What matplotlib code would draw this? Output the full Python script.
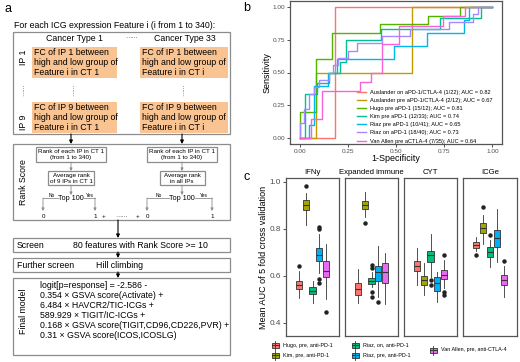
import numpy as np
import matplotlib
matplotlib.use("Agg")
import matplotlib.pyplot as plt
from matplotlib.patches import Rectangle

plt.rcParams['font.family'] = ['Liberation Sans', 'DejaVu Sans']

# ---------------- data: panel b (ROC step vertices) ----------------
roc_labels = [
    "Auslander on aPD-1/CTLA-4 (1/22); AUC = 0.82",
    "Auslander pre aPD-1/CTLA-4 (2/12); AUC = 0.67",
    "Hugo pre aPD-1 (15/12); AUC = 0.81",
    "Kim pre aPD-1 (12/33); AUC = 0.74",
    "Riaz pre aPD-1 (10/41); AUC = 0.65",
    "Riaz on aPD-1 (18/40); AUC = 0.73",
    "Van Allen pre aCTLA-4 (7/35); AUC = 0.64",
]
roc_colors = ["#F8766D", "#C49A00", "#53B400", "#00C094", "#00B6EB", "#A58AFF", "#FB61D7"]

ausl_on_fpr = [0, 0.182, 0.182, 1]
ausl_on_tpr = [0, 0, 1, 1]
ausl_pre_fpr = [0, 0.083, 0.083, 0.583, 0.583, 1]
ausl_pre_tpr = [0, 0, 0.5, 0.5, 1, 1]
hugo_fpr = [0, 0, 0.083, 0.083, 0.167, 0.167, 0.417, 0.417, 0.667, 0.667, 0.833, 0.833, 1]
hugo_tpr = [0, 0.2, 0.2, 0.6, 0.6, 0.8, 0.8, 0.867, 0.867, 0.933, 0.933, 1, 1]
kim_fpr = [0, 0.03, 0.03, 0.091, 0.091, 0.152, 0.152, 0.212, 0.212, 0.242, 0.242,
           0.424, 0.424, 0.727, 0.727, 0.939, 0.939, 1]
kim_tpr = [0, 0, 0.333, 0.333, 0.417, 0.417, 0.5, 0.5, 0.583, 0.583, 0.75,
           0.75, 0.833, 0.833, 0.917, 0.917, 1, 1]
riaz_pre_fpr = [0, 0.049, 0.049, 0.073, 0.073, 0.146, 0.146, 0.195, 0.195, 0.488, 0.488,
                0.659, 0.659, 0.854, 0.854, 0.878, 0.878, 1]
riaz_pre_tpr = [0, 0, 0.1, 0.1, 0.4, 0.4, 0.5, 0.5, 0.6, 0.6, 0.7,
                0.7, 0.8, 0.8, 0.9, 0.9, 1, 1]
riaz_on_fpr = [0, 0, 0.025, 0.025, 0.05, 0.05, 0.075, 0.075, 0.1, 0.1, 0.15, 0.15, 0.175,
               0.175, 0.2, 0.2, 0.25, 0.25, 0.3, 0.3, 0.425, 0.425, 0.575, 0.575, 0.775,
               0.775, 0.9, 0.9, 0.925, 0.925, 1]
riaz_on_tpr = [0, 0.111, 0.111, 0.222, 0.222, 0.333, 0.333, 0.389, 0.389, 0.444, 0.444, 0.5,
               0.5, 0.556, 0.556, 0.611, 0.611, 0.667, 0.667, 0.722, 0.722, 0.778, 0.778,
               0.833, 0.833, 0.889, 0.889, 0.944, 0.944, 1, 1]
vanallen_fpr = [0, 0.057, 0.057, 0.114, 0.114, 0.314, 0.314, 0.371, 0.371, 0.429, 0.429,
                0.514, 0.514, 0.743, 0.743, 0.857, 0.857, 1]
vanallen_tpr = [0, 0, 0.143, 0.143, 0.357, 0.357, 0.429, 0.429, 0.5, 0.5, 0.714,
                0.714, 0.857, 0.857, 0.929, 0.929, 1, 1]

roc_fpr = [ausl_on_fpr, ausl_pre_fpr, hugo_fpr, kim_fpr, riaz_pre_fpr, riaz_on_fpr, vanallen_fpr]
roc_tpr = [ausl_on_tpr, ausl_pre_tpr, hugo_tpr, kim_tpr, riaz_pre_tpr, riaz_on_tpr, vanallen_tpr]

# ---------------- data: panel c (box stats) ----------------
methods = ["IFNy", "Expanded immune", "CYT", "ICGe"]
datasets = ["Hugo, pre, anti-PD-1", "Kim, pre, anti-PD-1", "Riaz, on, anti-PD-1",
            "Riaz, pre, anti-PD-1", "Van Allen, pre, anti-CTLA-4"]
box_colors = ["#F8766D", "#A3A500", "#00BF7D", "#00B0F6", "#E76BF3"]

# rows = methods, cols = datasets
whis_lo = [[0.503, 0.817, 0.483, 0.611, 0.500],
           [0.483, 0.850, 0.550, 0.507, 0.479],
           [0.560, 0.519, 0.593, 0.486, 0.546],
           [0.703, 0.736, 0.636, 0.660, 0.511]]
q1 = [[0.543, 0.879, 0.521, 0.664, 0.593],
      [0.519, 0.883, 0.564, 0.579, 0.569],
      [0.619, 0.560, 0.657, 0.536, 0.586],
      [0.717, 0.781, 0.679, 0.724, 0.561]]
med = [[0.561, 0.900, 0.536, 0.690, 0.619],
       [0.543, 0.900, 0.579, 0.614, 0.614],
       [0.643, 0.581, 0.686, 0.567, 0.604],
       [0.731, 0.804, 0.700, 0.760, 0.581]]
q3 = [[0.579, 0.921, 0.550, 0.717, 0.664],
      [0.569, 0.919, 0.590, 0.643, 0.654],
      [0.664, 0.600, 0.707, 0.596, 0.624],
      [0.743, 0.824, 0.721, 0.793, 0.603]]
whis_hi = [[0.620, 0.950, 0.579, 0.779, 0.733],
           [0.629, 0.957, 0.614, 0.726, 0.696],
           [0.717, 0.654, 0.779, 0.614, 0.665],
           [0.764, 0.857, 0.750, 0.886, 0.640]]
outliers = [[[0.640], [0.983], [], [0.586, 0.567, 0.797, 0.807], [0.447]],
            [[], [0.826], [0.646, 0.631, 0.529, 0.511], [0.486], []],
            [[], [], [0.581, 0.561], [], [0.689, 0.531, 0.519]],
            [[0.689], [0.893], [0.774], [], [0.664]]]

# ---------------- figure ----------------
W, H = 520, 362
fig = plt.figure(figsize=(5.2, 3.62), dpi=100)

# overlay in pixel coordinates for panel a and labels
ov = fig.add_axes([0, 0, 1, 1])
ov.set_xlim(0, W)
ov.set_ylim(H, 0)
ov.axis('off')

GRAY = "#8C8C8C"
ORANGE = "#F9C492"


def box(x0, y0, x1, y1, fc="none", ec=GRAY, lw=0.9):
    ov.add_patch(Rectangle((x0, y0), x1 - x0, y1 - y0, fc=fc, ec=ec, lw=lw))


def arrow(x, y0, y1, color="black", lw=0.8, ms=5):
    ov.annotate("", xy=(x, y1), xytext=(x, y0),
                arrowprops=dict(arrowstyle="-|>", color=color, lw=lw,
                                mutation_scale=ms, shrinkA=0, shrinkB=0))


fs_big = 6.3
ov.text(8, 9, "a", fontsize=9, ha="center", va="center")
ov.text(247, 8, "b", fontsize=9, ha="center", va="center")
ov.text(247, 177, "c", fontsize=9, ha="center", va="center")

ov.text(14, 25, "For each ICG expression Feature i (i from 1 to 340):", fontsize=fs_big, va="center")
box(13, 32, 230, 134)
ov.text(75, 38.5, "Cancer Type 1", fontsize=fs_big, ha="center", va="center")
ov.text(131, 37, "\u2026\u2026", fontsize=4.5, ha="center", va="center")
ov.text(185, 38.5, "Cancer Type 33", fontsize=fs_big, ha="center", va="center")

fc_texts = [["FC of IP 1 between", "high and low group of", "Feature i in CT 1"],
            ["FC of IP 1 between", "high and low group of", "Feature i in CT i"],
            ["FC of IP 9 between", "high and low group of", "Feature i in CT 1"],
            ["FC of IP 9 between", "high and low group of", "Feature i in CT i"]]
fc_boxes = [(32, 47, 117, 78), (140, 47, 228, 78), (32, 102, 117, 133), (140, 102, 228, 133)]
for (x0, y0, x1, y1), lines in zip(fc_boxes, fc_texts):
    box(x0, y0, x1, y1, fc=ORANGE, ec="none")
    for k, ln in enumerate(lines):
        ov.text(x0 + 2, y0 + 5.5 + 10.2 * k, ln, fontsize=fs_big, va="center")

ov.text(73, 90, "\u2026\u2026", fontsize=4.5, rotation=90, ha="center", va="center")
ov.text(183, 90, "\u2026\u2026", fontsize=4.5, rotation=90, ha="center", va="center")
ov.text(23, 57, "IP 1", fontsize=fs_big, rotation=90, ha="center", va="center")
ov.text(23, 90, "\u2026\u2026", fontsize=4.5, rotation=90, ha="center", va="center")
ov.text(23, 122, "IP 9", fontsize=fs_big, rotation=90, ha="center", va="center")

arrow(71, 134, 144)
arrow(182, 134, 144)

# rank score block
box(13, 144, 230, 220)
ov.text(23, 182, "Rank Score", fontsize=fs_big, rotation=90, ha="center", va="center")
fs_small = 4.5
for cx, x0, x1, t2 in [(71, 36, 106, "CT 1"), (182, 147, 217, "CT 1")]:
    box(x0, 147, x1, 162)
    ov.text(cx, 151.3, "Rank of each IP in " + t2, fontsize=fs_small, ha="center", va="center")
    ov.text(cx, 158, "(from 1 to 340)", fontsize=fs_small, ha="center", va="center")
    arrow(cx, 162, 171, color=GRAY, lw=0.6, ms=4)
box(48, 171, 94, 185)
ov.text(71, 175.3, "Average rank", fontsize=fs_small, ha="center", va="center")
ov.text(71, 181.5, "of 9 IPs in CT 1", fontsize=fs_small, ha="center", va="center")
box(160, 171, 205, 185)
ov.text(182, 175.3, "Average rank", fontsize=fs_small, ha="center", va="center")
ov.text(182, 181.5, "in all IPs", fontsize=fs_small, ha="center", va="center")
for cx, xl, xr in [(71, 43, 95), (182, 147, 212)]:
    arrow(cx, 185, 195, color=GRAY, lw=0.6, ms=4)
    ov.text(cx, 199, "Top 100", fontsize=5.2, ha="center", va="center")
    ov.plot([xl, cx - 13], [198, 198], color=GRAY, lw=0.6)
    ov.plot([cx + 13, xr], [198, 198], color=GRAY, lw=0.6)
    ov.text((xl + cx - 13) / 2 + 1, 195.5, "No", fontsize=3.5, ha="center", va="center")
    ov.text((xr + cx + 13) / 2, 195.5, "Yes", fontsize=3.5, ha="center", va="center")
    arrow(xl, 198, 211, color=GRAY, lw=0.6, ms=4)
    arrow(xr, 198, 211, color=GRAY, lw=0.6, ms=4)
    ov.text(xl, 216, "0", fontsize=4.5, ha="center", va="center")
    ov.text(xr, 216, "1", fontsize=4.5, ha="center", va="center")
ov.text(104, 216, "+", fontsize=4.5, ha="center", va="center")
ov.text(121, 215.5, "\u2026\u2026", fontsize=4.5, ha="center", va="center")
ov.text(138, 216, "+", fontsize=4.5, ha="center", va="center")

arrow(118, 220, 238)
box(13, 238, 230, 252)
ov.text(17, 245, "Screen", fontsize=fs_big, va="center")
ov.text(140, 245, "80 features with Rank Score >= 10", fontsize=fs_big, ha="center", va="center")
arrow(118, 252, 258)
box(13, 258, 230, 272)
ov.text(17, 265, "Further screen", fontsize=fs_big, va="center")
ov.text(120, 265, "Hill climbing", fontsize=fs_big, ha="center", va="center")
arrow(118, 272, 278)
box(13, 278, 230, 355)
ov.text(23, 311, "Final model", fontsize=fs_big, rotation=90, ha="center", va="center")
model_lines = ["logit[p=response] = -2.586 -",
               "0.354 \u00d7 GSVA score(Activate) +",
               "6.484 \u00d7 HAVCR2/TIC-ICGs +",
               "589.929 \u00d7 TIGIT/IC-ICGs +",
               "0.168 \u00d7 GSVA score(TIGIT,CD96,CD226,PVR) +",
               "0.31 \u00d7 GSVA score(ICOS,ICOSLG)"]
for k, ln in enumerate(model_lines):
    ov.text(40, 285.5 + 9.9 * k, ln, fontsize=fs_big, va="center")

# ---------------- panel b ----------------
axb = fig.add_axes([290 / W, 1 - 144.5 / H, 212 / W, 144 / H])
for fx, ty, col, lab in zip(roc_fpr, roc_tpr, roc_colors, roc_labels):
    axb.plot(fx, ty, color=col, lw=1.0, label=lab)
axb.set_xlim(-0.05, 1.05)
axb.set_ylim(-0.05, 1.05)
ticks = [0, 0.25, 0.5, 0.75, 1.0]
axb.set_xticks(ticks)
axb.set_yticks(ticks)
axb.set_xticklabels(["0.00", "0.25", "0.50", "0.75", "1.00"])
axb.set_yticklabels(["0.00", "0.25", "0.50", "0.75", "1.00"])
axb.tick_params(labelsize=4.6, length=2, width=0.6, pad=1.5, colors="#333333", labelcolor="#4D4D4D")
for s in axb.spines.values():
    s.set_color("#555555")
    s.set_linewidth(0.9)
axb.set_xlabel("1-Specificity", fontsize=6.5, labelpad=0)
axb.set_ylabel("Sensitivity", fontsize=6.5, labelpad=1)
axb.legend(loc="upper left", bbox_to_anchor=(0.315, 0.378), frameon=False, fontsize=4.1,
           handlelength=1.6, handletextpad=0.8, labelspacing=0.54, borderpad=0, borderaxespad=0)

# ---------------- panel c ----------------
panel_x = [(286, 339), (345, 398), (404, 457), (463, 517)]
offsets = (np.arange(len(datasets)) - 2) * 0.152
for m, (method, (x0, x1)) in enumerate(zip(methods, panel_x)):
    ax = fig.add_axes([x0 / W, 1 - 336 / H, (x1 - x0) / W, 158 / H])
    stats = []
    for d in range(len(datasets)):
        stats.append(dict(med=med[m][d], q1=q1[m][d], q3=q3[m][d],
                          whislo=whis_lo[m][d], whishi=whis_hi[m][d],
                          fliers=outliers[m][d]))
    bp = ax.bxp(stats, positions=offsets, widths=0.14, patch_artist=True,
                boxprops=dict(edgecolor="#333333", lw=0.6),
                medianprops=dict(color="#333333", lw=0.8),
                whiskerprops=dict(color="#333333", lw=0.6),
                capprops=dict(lw=0),
                flierprops=dict(marker="o", markerfacecolor="#222222",
                                markeredgecolor="#222222", markersize=2.2))
    for patch, col in zip(bp["boxes"], box_colors):
        patch.set_facecolor(col)
    ax.set_xlim(-0.6, 0.6)
    ax.set_ylim(0.343, 1.016)
    ax.set_xticks([])
    ax.set_yticks([0.4, 0.6, 0.8, 1.0])
    if m == 0:
        ax.set_yticklabels(["0.4", "0.6", "0.8", "1.0"])
        ax.tick_params(axis="y", labelsize=5.9, length=2, width=0.6, pad=1.5,
                       colors="#333333", labelcolor="#4D4D4D")
        ax.set_ylabel("Mean AUC of 5 fold cross validation", fontsize=6.5, labelpad=1.5)
    else:
        ax.set_yticklabels([])
        ax.tick_params(axis="y", length=0)
    for s in ax.spines.values():
        s.set_color("#555555")
        s.set_linewidth(0.9)
    ov.text((x0 + x1) / 2, 172, method, fontsize=5.6, ha="center", va="center")

# legend of panel c (key glyphs drawn as small boxplots)
legend_pos = [(275, 345), (275, 355), (355, 345), (355, 355), (433, 350)]
for (kx, ky), col, lab in zip(legend_pos, box_colors, datasets):
    ov.plot([kx, kx], [ky - 4.5, ky + 4.5], color="#333333", lw=0.6)
    box(kx - 3.5, ky - 2.5, kx + 3.5, ky + 2.5, fc=col, ec="#333333", lw=0.6)
    ov.plot([kx - 3.5, kx + 3.5], [ky, ky], color="#333333", lw=0.7)
    ov.text(kx + 8, ky, lab, fontsize=3.9, va="center")

fig.savefig("out.png", dpi=100)
